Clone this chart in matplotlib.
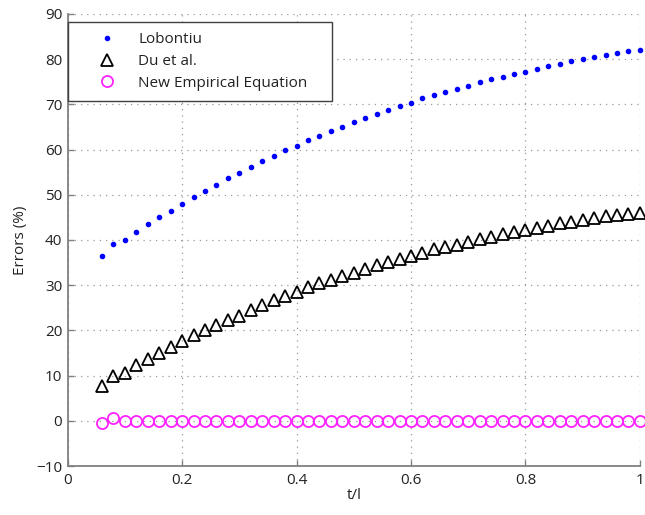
import numpy as np
import matplotlib
matplotlib.use('Agg')
import matplotlib.pyplot as plt

plt.rcParams['font.family'] = ['Open Sans', 'DejaVu Sans']

# t/l sample positions (0.06 .. 1.00, every 0.02)
t_l = np.round(np.arange(0.06, 1.0001, 0.02), 2)

lobontiu = [36.5, 39.2, 39.9, 41.8, 43.5, 45.0, 46.5, 48.0, 49.4, 50.9,
            52.2, 53.6, 54.9, 56.2, 57.4, 58.6, 59.8, 60.8, 62.1, 63.0,
            64.1, 65.0, 66.1, 67.0, 67.9, 68.8, 69.6, 70.4, 71.3, 72.0,
            72.7, 73.4, 74.1, 75.0, 75.6, 76.1, 76.7, 77.2, 77.9, 78.5,
            79.0, 79.5, 80.0, 80.4, 80.9, 81.3, 81.7, 82.0]

du_et_al = [7.6, 9.9, 10.6, 12.3, 13.7, 15.0, 16.3, 17.6, 18.9, 20.1,
            21.2, 22.3, 23.3, 24.5, 25.7, 26.7, 27.7, 28.6, 29.5, 30.4,
            31.2, 32.0, 32.8, 33.6, 34.4, 35.1, 35.9, 36.5, 37.2, 37.9,
            38.4, 39.0, 39.6, 40.2, 40.7, 41.3, 41.8, 42.3, 42.7, 43.2,
            43.7, 44.0, 44.5, 44.9, 45.2, 45.5, 45.8, 45.9]

new_empirical = [-0.4, 0.6, -0.1] + [0.0] * 45

x_ticks = [0, 0.2, 0.4, 0.6, 0.8, 1.0]
x_ticklabels = ['0', '0.2', '0.4', '0.6', '0.8', '1']
y_ticks = list(range(-10, 91, 10))

fig = plt.figure(figsize=(6.45, 5.15), dpi=100)
ax = fig.add_axes([0.105, 0.095, 0.887, 0.878])

ax.plot(t_l, lobontiu, linestyle='none', marker='o', ms=3.0, color='#0000ff',
        mec='#0000ff', label='Lobontiu', clip_on=False, zorder=3)
ax.plot(t_l, du_et_al, linestyle='none', marker='^', ms=8.3, mfc='none',
        mec='black', mew=1.3, label='Du et al.', clip_on=False, zorder=3)
ax.plot(t_l, new_empirical, linestyle='none', marker='o', ms=8, mfc='none',
        mec='#ff22ff', mew=1.3, label='New Empirical Equation', clip_on=False, zorder=3)

ax.set_xlim(0, 1)
ax.set_ylim(-10, 90)
ax.set_xticks(x_ticks)
ax.set_xticklabels(x_ticklabels)
ax.set_yticks(y_ticks)
ax.tick_params(direction='in', length=4, width=1, color='#808080',
               labelsize=11, labelcolor='#222222')
ax.tick_params(axis='y', pad=4)
ax.tick_params(axis='x', pad=5)

for side in ['top', 'right']:
    ax.spines[side].set_visible(False)
for side in ['left', 'bottom']:
    ax.spines[side].set_color('#808080')
    ax.spines[side].set_linewidth(1.3)

ax.grid(True, linestyle=(0, (1, 4)), color='#999999', linewidth=0.9)
ax.set_axisbelow(True)

ax.set_xlabel('t/l', fontsize=11, color='#222222', labelpad=0)
ax.set_ylabel('Errors (%)', fontsize=11, color='#222222', labelpad=6)

leg = ax.legend(loc='upper left', bbox_to_anchor=(0, 0, 0.462, 0.982), mode='expand',
                borderaxespad=0, borderpad=0.65, fontsize=11, numpoints=1,
                handlelength=3.9, handletextpad=0.05, fancybox=False, framealpha=1,
                labelspacing=0.45)
leg.get_frame().set_edgecolor('#404040')
leg.get_frame().set_linewidth(1.0)
for txt in leg.get_texts():
    txt.set_color('#222222')

plt.savefig('out.png', dpi=100)
